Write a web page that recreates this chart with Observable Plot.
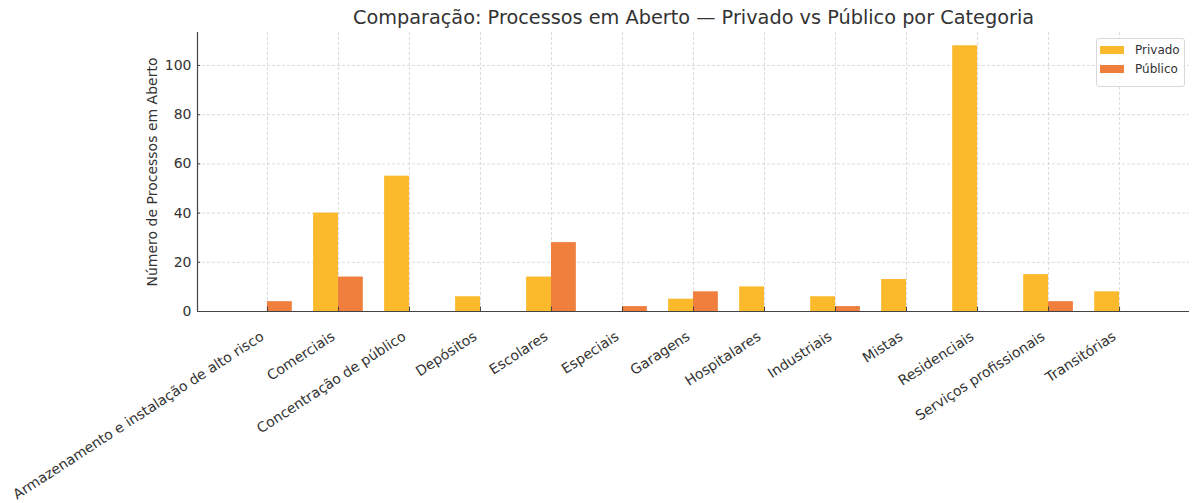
<!DOCTYPE html>
<html>
<head>
<meta charset="utf-8">
<script src="https://cdn.jsdelivr.net/npm/d3@7"></script>
<script src="https://cdn.jsdelivr.net/npm/@observablehq/plot@0.6"></script>
<style>
  html, body { margin: 0; padding: 0; background: #fff; }
  #wrap { position: relative; width: 1192px; height: 503px; font-family: "DejaVu Sans", sans-serif; }
  #legend { position: absolute; left: 1096px; top: 38px; width: 89px; height: 49px; box-sizing: border-box;
            border: 1px solid #d8d8d8; border-radius: 3px; background: rgba(255,255,255,0.85);
            font-size: 12px; color: #333; padding: 1px 0 0 3px; }
  .row { display: flex; align-items: center; height: 19px; }
  .sw { width: 24px; height: 8px; margin-right: 11px; }
</style>
</head>
<body>
<div id="wrap"></div>
<script>
const categories = [
  "Armazenamento e instalação de alto risco", "Comerciais", "Concentração de público",
  "Depósitos", "Escolares", "Especiais", "Garagens", "Hospitalares", "Industriais",
  "Mistas", "Residenciais", "Serviços profissionais", "Transitórias"
];
const privado = [0, 40, 55, 6, 14, 0, 5, 10, 6, 13, 108, 15, 8];
const publico = [4, 14, 0, 0, 28, 2, 8, 0, 2, 0, 0, 4, 0];
const seriesNames = ["Privado", "Público"];
const colors = ["#FBBA2B", "#F07F3D"];
const yTicks = [0, 20, 40, 60, 80, 100];

const bw = 0.35;
const rows = [];
categories.forEach((c, i) => {
  rows.push({i, cat: c, s: seriesNames[0], v: privado[i], x1: i - bw, x2: i});
  rows.push({i, cat: c, s: seriesNames[1], v: publico[i], x1: i, x2: i + bw});
});
const idx = categories.map((c, i) => i);
const yMax = d3.max([...privado, ...publico]) * 1.05;
const xMin = -bw - 0.635, xMax = categories.length - 1 + bw + 0.635;

const chart = Plot.plot({
  width: 1192,
  height: 503,
  marginTop: 32,
  marginBottom: 192,
  marginLeft: 197,
  marginRight: 3,
  style: {fontFamily: "DejaVu Sans, sans-serif", fontSize: "14px", color: "#333", background: "#fff"},
  x: {type: "linear", domain: [xMin, xMax], axis: null},
  y: {domain: [0, yMax], axis: null},
  color: {domain: seriesNames, range: colors},
  marks: [
    Plot.ruleY(yTicks, {y: d => d, stroke: "#d2d2d2", strokeDasharray: "3,2", strokeWidth: 0.8}),
    Plot.ruleX(idx, {x: d => d, stroke: "#d2d2d2", strokeDasharray: "3,2", strokeWidth: 0.8}),
    Plot.rectY(rows, {x1: "x1", x2: "x2", y1: 0, y2: "v", fill: "s"}),
    Plot.ruleX(idx, {x: d => d, y1: 0, y2: yMax * 0.016, stroke: "#444", strokeWidth: 1}),
    Plot.ruleY(yTicks, {y: d => d, x1: xMin, x2: xMin + 0.045, stroke: "#444", strokeWidth: 1}),
    Plot.axisY(yTicks, {tickSize: 0, tickPadding: 6, fontSize: 14, label: null, color: "#333"}),
    Plot.text(["Número de Processos em Aberto"], {frameAnchor: "left", textAnchor: "middle", dx: -45, rotate: -90, fontSize: 14, fill: "#333"}),
    Plot.text(idx, {x: d => d, frameAnchor: "bottom", text: d => categories[d], rotate: -33, textAnchor: "end",
                    lineAnchor: "top", dx: -8, dy: 19, fontSize: 14, fill: "#333"}),
    Plot.text(["Comparação: Processos em Aberto — Privado vs Público por Categoria"],
              {frameAnchor: "top", dy: -22, lineAnchor: "top", fontSize: 19.3, fill: "#333"}),
    Plot.ruleY([0], {stroke: "#444", strokeWidth: 1.2}),
    Plot.ruleX([xMin], {stroke: "#444", strokeWidth: 1.2})
  ]
});

const wrap = document.getElementById("wrap");
wrap.appendChild(chart);
const lg = document.createElement("div");
lg.id = "legend";
seriesNames.forEach((s, k) => {
  const r = document.createElement("div");
  r.className = "row";
  r.innerHTML = `<span class="sw" style="background:${colors[k]}"></span><span>${s}</span>`;
  lg.appendChild(r);
});
wrap.appendChild(lg);
</script>
</body>
</html>
